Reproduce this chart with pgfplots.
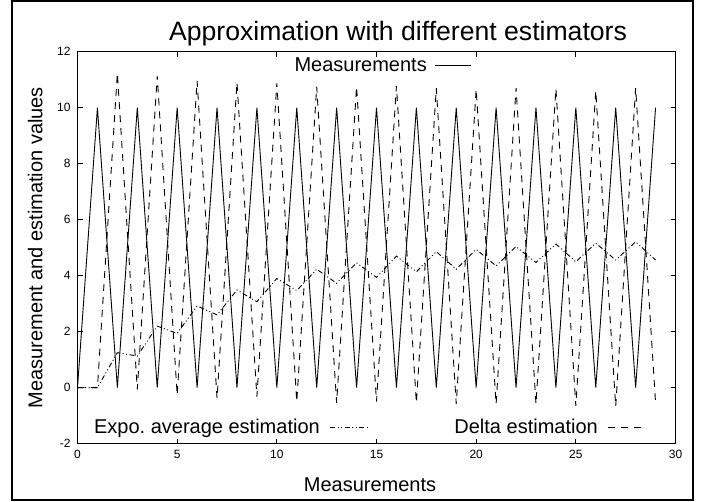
\documentclass[border=0pt]{standalone}
\usepackage{fontspec}
\setmainfont{Liberation Sans}
\usepackage{pgfplots}
\pgfplotsset{compat=1.18}
\frenchspacing

\begin{document}
\begin{tikzpicture}[x=1pt,y=1pt]
\useasboundingbox (0,0) rectangle (711,502);
\begin{axis}[
  at={(77.5pt,58.3pt)}, anchor=south west,
  width=598pt, height=392pt, scale only axis,
  xmin=0, xmax=30, ymin=-2, ymax=12,
  xtick={0,5,...,30}, ytick={-2,0,...,12},
  tick align=inside,
  major tick length=5pt,
  axis line style={line width=1pt},
  every tick/.style={black, line width=0.8pt},
  /pgf/number format/assume math mode=true,
  tick label style={font=\fontsize{12}{14}\selectfont},
  yticklabel style={xshift=-3.5pt},
  xticklabel style={yshift=-3pt},
]
% measurements
\addplot[black, line width=0.9pt] coordinates {
  (0,0) (1,10) (2,0) (3,10) (4,0) (5,10) (6,0) (7,10) (8,0) (9,10)
  (10,0) (11,10) (12,0) (13,10) (14,0) (15,10) (16,0) (17,10) (18,0) (19,10)
  (20,0) (21,10) (22,0) (23,10) (24,0) (25,10) (26,0) (27,10) (28,0) (29,10)
};
% delta estimation
\addplot[black, line width=0.9pt, dash pattern=on 7pt off 6pt] coordinates {
  (0,0) (1,0) (2,11.23) (3,-0.06) (4,11.13) (5,-0.26) (6,10.96) (7,-0.38)
  (8,10.9) (9,-0.32) (10,10.87) (11,-0.5) (12,10.75) (13,-0.54) (14,10.75)
  (15,-0.5) (16,10.77) (17,-0.54) (18,10.7) (19,-0.58) (20,10.66) (21,-0.58)
  (22,10.7) (23,-0.58) (24,10.68) (25,-0.65) (26,10.6) (27,-0.67) (28,10.7)
  (29,-0.54)
};
% exponential average estimation
\addplot[black, line width=0.9pt, dash pattern=on 5pt off 2.5pt on 1pt off 2.5pt on 1pt off 2.5pt] coordinates {
  (0,0) (1,0) (2,1.25) (3,1.13) (4,2.2) (5,1.94) (6,2.92) (7,2.6) (8,3.49)
  (9,3.07) (10,3.9) (11,3.47) (12,4.23) (13,3.73) (14,4.46) (15,3.94)
  (16,4.7) (17,4.14) (18,4.86) (19,4.23) (20,4.94) (21,4.35) (22,5.04)
  (23,4.47) (24,5.13) (25,4.5) (26,5.16) (27,4.56) (28,5.21) (29,4.56)
};
\end{axis}

% outer frame
\draw[line width=2.3pt] (12,2) rectangle (693,501.2);

% title and axis labels
\node[anchor=base, inner sep=0pt, font=\fontsize{26.6}{30}\selectfont] at (398,461) {Approximation with different estimators};
\node[anchor=base, inner sep=0pt, font=\fontsize{20}{24}\selectfont] at (370,10) {Measurements};
\node[anchor=base, rotate=90, inner sep=0pt, font=\fontsize{20}{24}\selectfont] at (42.3,254.3) {Measurement and estimation values};

% keys
\node[anchor=base east, inner sep=0pt, font=\fontsize{20}{24}\selectfont] at (427,430) {Measurements};
\draw[line width=0.9pt] (435,437) -- (471,437);
\node[anchor=base east, inner sep=0pt, font=\fontsize{20}{24}\selectfont] at (320,68) {Expo. average estimation};
\draw[line width=0.9pt, dash pattern=on 5pt off 2.5pt on 1pt off 2.5pt on 1pt off 2.5pt] (330,75) -- (368,75);
\node[anchor=base east, inner sep=0pt, font=\fontsize{20}{24}\selectfont] at (598,68) {Delta estimation};
\draw[line width=0.9pt, dash pattern=on 7pt off 6pt] (608,75) -- (641,75);
\end{tikzpicture}
\end{document}
